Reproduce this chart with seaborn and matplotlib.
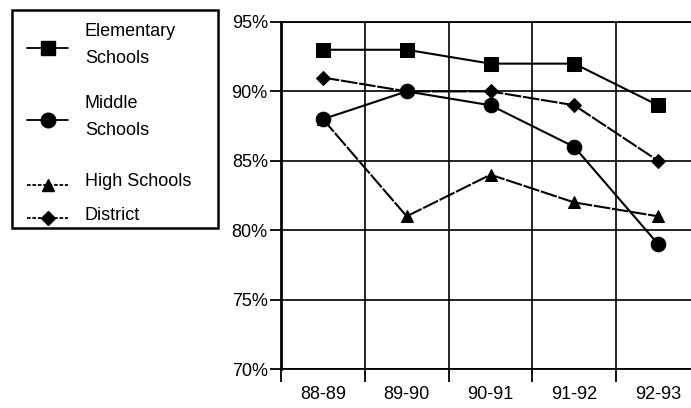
import matplotlib
matplotlib.use("Agg")
import matplotlib.pyplot as plt
import seaborn as sns
import pandas as pd
from matplotlib.patches import Rectangle

# School years and attendance rates (%) by school level
years = ["88-89", "89-90", "90-91", "91-92", "92-93"]
elementary = [93, 93, 92, 92, 89]
middle = [88, 90, 89, 86, 79]
high = [88, 81, 84, 82, 81]
district = [91, 90, 90, 89, 85]

series_names = ["Elementary Schools", "Middle Schools", "High Schools", "District"]
legend_labels = ["Elementary\nSchools", "Middle\nSchools", "High Schools", "District"]
y_ticks = [70, 75, 80, 85, 90, 95]

rows = []
for name, vals in zip(series_names, [elementary, middle, high, district]):
    for i, (yr, v) in enumerate(zip(years, vals)):
        rows.append({"pos": i, "year": yr, "rate": v, "series": name})
df = pd.DataFrame(rows)

sns.set_theme(style="white")
plt.rcParams["font.family"] = ["Liberation Sans", "DejaVu Sans"]

markers = {"Elementary Schools": "s", "Middle Schools": "o",
           "High Schools": "^", "District": "D"}
msizes = {"Elementary Schools": 10, "Middle Schools": 10.5,
          "High Schools": 9, "District": 7.5}
dashes = {"Elementary Schools": "", "Middle Schools": "",
          "High Schools": (8, 0.8), "District": (8, 0.8)}

FS = 13

W, H = 691, 408
fig = plt.figure(figsize=(W / 100, H / 100), dpi=100)
ax = fig.add_axes([281 / W, 39 / H, 419 / W, 347 / H])

sns.lineplot(data=df, x="pos", y="rate", hue="series", style="series",
             hue_order=series_names, style_order=series_names,
             palette=["black"] * 4, markers=markers, dashes=dashes,
             linewidth=1.5, markersize=9, markeredgecolor="black",
             legend=False, ax=ax, zorder=3)

# adjust marker sizes per series
for line, name in zip(ax.get_lines(), series_names):
    line.set_markersize(msizes[name])

ax.set_xlim(-0.5, 4.5)
ax.set_ylim(70, 95)
ax.set_yticks(y_ticks)
ax.set_yticklabels([f"{v}%" for v in y_ticks])

# boundaries carry the tick marks and vertical grid, centers carry the labels
ax.set_xticks([-0.5, 0.5, 1.5, 2.5, 3.5, 4.5])
ax.set_xticklabels([""] * 6)
ax.set_xticks(range(len(years)), minor=True)
ax.set_xticklabels(years, minor=True)
ax.tick_params(axis="x", which="major", direction="out", length=9,
               width=1.3, color="black", bottom=True)
ax.tick_params(axis="x", which="minor", length=0, pad=12.5, labelsize=FS,
               labelcolor="black")
ax.tick_params(axis="y", which="major", direction="out", length=8,
               width=1.3, color="black", left=True, pad=1.5, labelsize=FS,
               labelcolor="black")

ax.grid(True, which="major", color="black", linewidth=1.2)
ax.set_axisbelow(True)
ax.set_xlabel("")
ax.set_ylabel("")
for side, sp in ax.spines.items():
    sp.set_color("black")
    sp.set_linewidth(1.3)
ax.spines["left"].set_linewidth(2)
ax.spines["right"].set_visible(False)

# legend panel in pixel coordinates
lx0, ly0, lw, lh = 12, 10, 206, 218
lax = fig.add_axes([lx0 / W, (H - ly0 - lh) / H, lw / W, lh / H])
lax.set_xlim(0, lw)
lax.set_ylim(lh, 0)
lax.axis("off")
lax.add_patch(Rectangle((0, 0), lw, lh, fill=False, edgecolor="black",
                        linewidth=1.8, clip_on=False))

handle_y = [38, 110, 175, 208]
text_y = [35, 107, 172, 206]
for name, lab, hy, ty in zip(series_names, legend_labels, handle_y, text_y):
    ls = "-" if dashes[name] == "" else (0, (2, 1))
    lax.plot([15, 56], [hy, hy], color="black", linewidth=1.3, linestyle=ls)
    lax.plot([36], [hy], marker=markers[name], color="black",
             markersize=msizes[name])
    lax.text(73, ty, lab, ha="left", va="center", fontsize=FS,
             color="black", linespacing=1.75)

fig.savefig("out.png", dpi=100, facecolor="white")
